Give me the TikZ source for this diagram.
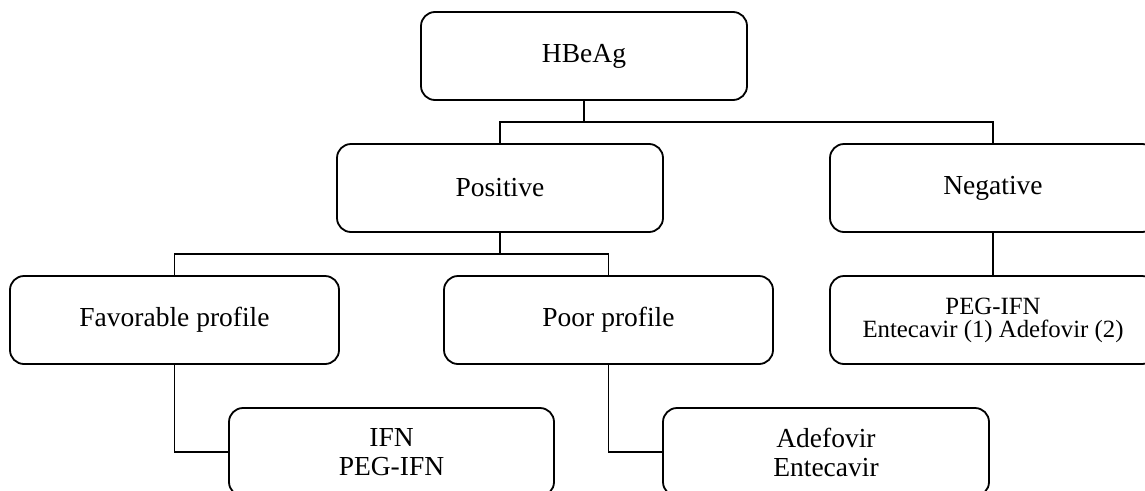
\documentclass[tikz,border=0pt]{standalone}
\usepackage{fontspec}
\setmainfont{Liberation Serif}
\begin{document}
\begin{tikzpicture}[x=1pt,y=-1pt,
  box/.style={draw, line width=1.8pt, rounded corners=14pt, minimum height=88pt, inner sep=0pt, align=center, font=\fontsize{27.5}{29}\selectfont},
  smallbox/.style={box, font=\fontsize{24.8}{23}\selectfont},
  conn/.style={line width=1.5pt}]
\useasboundingbox (0,0) rectangle (1145,490);
\begin{scope}
\clip (0,0) rectangle (1145,490);
\node[box, minimum width=326pt] (hb) at (584,56) {HBeAg};
\node[box, minimum width=326pt] (pos) at (500,188) {Positive};
\node[box, minimum width=326pt] (neg) at (993,188) {Negative};
\node[box, minimum width=329pt] (fav) at (174.5,320) {Favorable profile};
\node[box, minimum width=329pt] (poor) at (608.5,320) {Poor profile};
\node[smallbox, minimum width=326pt] (peg) at (993,320) {PEG-IFN\\Entecavir (1) Adefovir (2)};
\node[box, minimum width=325pt] (ifn) at (391.5,452) {IFN\\PEG-IFN};
\node[box, minimum width=326pt] (ade) at (826,452) {Adefovir\\Entecavir};
\coordinate (j1) at (584,122);
\coordinate (j2) at (500,254);
\draw[conn] (hb.south) -- (j1);
\draw[conn] (j1) -| (pos.north);
\draw[conn] (j1) -| (neg.north);
\draw[conn] (pos.south) -- (j2);
\draw[conn] (j2) -| (fav.north);
\draw[conn] (j2) -| (poor.north);
\draw[conn] (neg.south) -- (peg.north);
\draw[conn] (fav.south) |- (ifn.west);
\draw[conn] (poor.south) |- (ade.west);
\end{scope}
\end{tikzpicture}
\end{document}
